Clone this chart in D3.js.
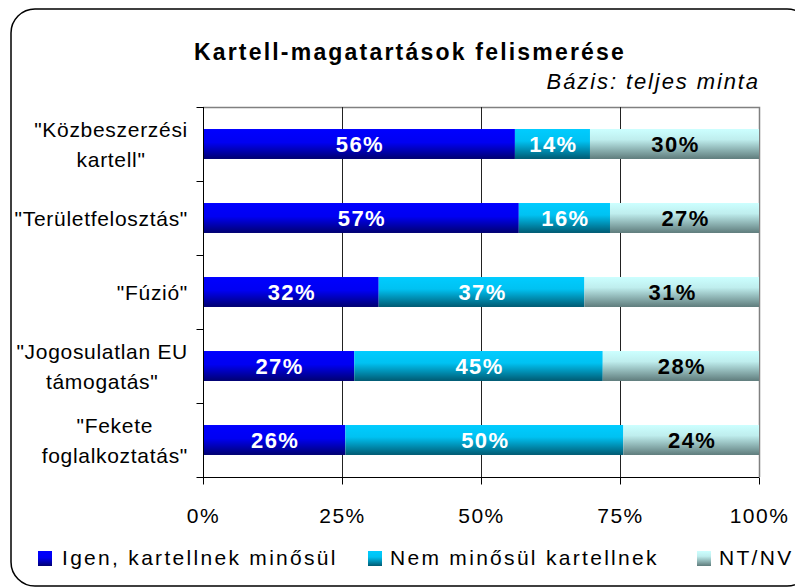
<!DOCTYPE html>
<html>
<head>
<meta charset="utf-8">
<script src="https://cdn.jsdelivr.net/npm/d3@7"></script>
<style>
  html, body { margin: 0; padding: 0; background: #fff; }
  svg { display: block; font-family: "Liberation Sans", Arial, sans-serif; }
</style>
</head>
<body>
<svg id="chart" width="795" height="587"></svg>
<script>
// ---- data ----
const categories = ['"Közbeszerzési\nkartell"', '"Területfelosztás"', '"Fúzió"', '"Jogosulatlan EU\ntámogatás"', '"Fekete\nfoglalkoztatás"'];
const seriesNames = ["Igen, kartellnek minősül", "Nem minősül kartellnek", "NT/NV"];
const igen = [56.1, 56.8, 31.6, 27.2, 25.6];
const nem  = [13.5, 16.4, 37.0, 44.7, 50.0];
const ntnv = [30.4, 26.8, 31.4, 28.1, 24.4];
const xTicks = [0, 25, 50, 75, 100];
const title = "Kartell-magatartások felismerése";
const subtitle = "Bázis: teljes minta";

// ---- layout ----
const svg = d3.select("#chart");
const plot = { left: 203, right: 759, top: 107, bottom: 477 };

const x = d3.scaleLinear().domain([0, 100]).range([plot.left, plot.right]);
const y = d3.scaleBand().domain(categories).range([plot.top, plot.bottom])
  .paddingInner(0.595).paddingOuter(0.2975);

// gradients
const defs = svg.append("defs");
const grads = [
  { id: "g0", stops: [[0, "#0000ff"], [0.45, "#0000f2"], [1, "#000070"]] },
  { id: "g1", stops: [[0, "#00ccff"], [0.4, "#00c2f2"], [1, "#005a72"]] },
  { id: "g2", stops: [[0, "#ccffff"], [0.35, "#bfeeee"], [1, "#5f7c7c"]] }
];
grads.forEach(g => {
  const lg = defs.append("linearGradient").attr("id", g.id)
    .attr("x1", 0).attr("y1", 0).attr("x2", 0).attr("y2", 1);
  g.stops.forEach(s => lg.append("stop").attr("offset", s[0]).attr("stop-color", s[1]));
});

// outer rounded border
svg.append("rect").attr("x", 11).attr("y", 9).attr("width", 800).attr("height", 577)
  .attr("rx", 24).attr("ry", 24).attr("fill", "#fff").attr("stroke", "#000").attr("stroke-width", 1.5);

// title
svg.append("text").attr("x", 410).attr("y", 60).attr("text-anchor", "middle")
  .attr("font-size", 23).attr("font-weight", "bold").attr("letter-spacing", 2.2).text(title);
svg.append("text").attr("x", 760).attr("y", 89).attr("text-anchor", "end")
  .attr("font-size", 22).attr("font-style", "italic").attr("letter-spacing", 1.9).text(subtitle);

// plot frame (top + right gray)
svg.append("path")
  .attr("d", `M${plot.left},${plot.top + 0.5}H${plot.right + 0.5}V${plot.bottom}`)
  .attr("fill", "none").attr("stroke", "#808080").attr("stroke-width", 1.5);

// gridlines
svg.append("g").selectAll("line").data([25, 50, 75]).join("line")
  .attr("x1", d => Math.round(x(d)) + 0.5).attr("x2", d => Math.round(x(d)) + 0.5)
  .attr("y1", plot.top).attr("y2", plot.bottom)
  .attr("stroke", "#222").attr("stroke-width", 1);

// stacked bars
const series = [igen, nem, ntnv];
const rows = categories.map((c, i) => ({ cat: c, vals: series.map(s => s[i]) }));
const stack = d3.stack().keys([0, 1, 2]).value((d, k) => d.vals[k]);
const stacked = stack(rows);
const labelColors = ["#fff", "#fff", "#000"];

stacked.forEach((layer, k) => {
  const g = svg.append("g");
  g.selectAll("rect").data(layer).join("rect")
    .attr("x", d => x(d[0])).attr("width", d => x(d[1]) - x(d[0]))
    .attr("y", d => y(d.data.cat)).attr("height", y.bandwidth())
    .attr("fill", `url(#g${k})`);
  g.selectAll("text").data(layer).join("text")
    .attr("x", d => (x(d[0]) + x(d[1])) / 2 + 1)
    .attr("y", d => y(d.data.cat) + y.bandwidth() / 2 + 7.8)
    .attr("text-anchor", "middle").attr("font-size", 22).attr("font-weight", "bold")
    .attr("letter-spacing", 1.4).attr("fill", labelColors[k])
    .text(d => Math.round(d.data.vals[k]) + "%");
});

// y axis with ticks at band boundaries
const yLin = d3.scaleLinear().domain([0, categories.length]).range([plot.top, plot.bottom]);
const yAxis = svg.append("g").attr("transform", `translate(${plot.left + 0.5},0)`)
  .call(d3.axisLeft(yLin).tickValues(d3.range(categories.length + 1)).tickSize(7).tickFormat(""));
yAxis.select(".domain").attr("stroke", "#000").attr("d", `M0,${plot.top}V${plot.bottom}`);
yAxis.selectAll(".tick line").attr("stroke", "#000");

// x axis
const xAxis = svg.append("g").attr("transform", `translate(0,${plot.bottom + 0.5})`)
  .call(d3.axisBottom(x).tickValues(xTicks).tickSize(7).tickFormat(d => d + "%"));
xAxis.select(".domain").attr("stroke", "#000").attr("d", `M${plot.left},0H${plot.right}`);
xAxis.selectAll(".tick line").attr("stroke", "#000");
xAxis.selectAll(".tick text").attr("font-size", 21).attr("letter-spacing", 1.5)
  .attr("font-family", "Liberation Sans, Arial, sans-serif").attr("fill", "#000")
  .attr("y", 0).attr("dy", 0).attr("transform", "translate(0,45)");

// category labels
const labelRight = 188;
categories.forEach(c => {
  const lines = c.split("\n");
  const cy = y(c) + y.bandwidth() / 2;
  const g = svg.append("g");
  const texts = lines.map(l => g.append("text").attr("font-size", 21).attr("letter-spacing", 0.7).text(l));
  const maxW = d3.max(texts, t => t.node().getComputedTextLength());
  const lh = 30;
  const start = cy + 7.5 - (lines.length - 1) * lh / 2;
  texts.forEach((t, i) => t.attr("x", labelRight - maxW / 2).attr("text-anchor", "middle")
    .attr("y", start + i * lh));
});

// legend
const legendItems = [
  { sx: 38, tx: 62 },
  { sx: 368, tx: 390 },
  { sx: 697, tx: 719 }
];
seriesNames.forEach((n, k) => {
  svg.append("rect").attr("x", legendItems[k].sx).attr("y", 551).attr("width", 14).attr("height", 15)
    .attr("fill", `url(#g${k})`);
  svg.append("text").attr("x", legendItems[k].tx).attr("y", 565)
    .attr("font-size", 21).attr("letter-spacing", 2.3).text(n);
});
</script>
</body>
</html>
